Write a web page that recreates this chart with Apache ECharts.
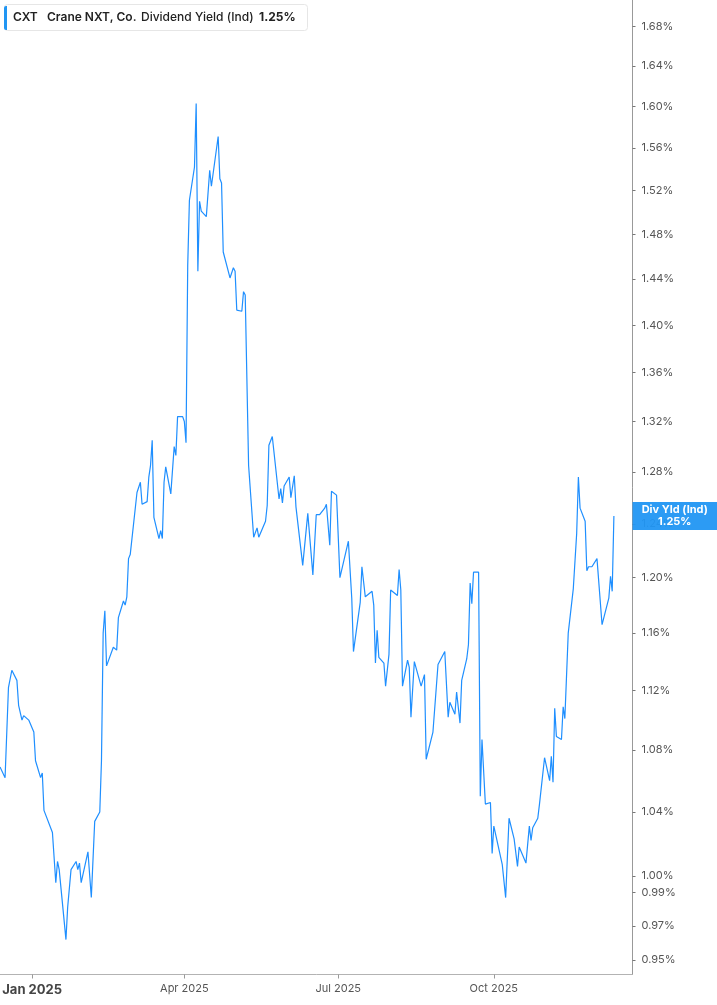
<!DOCTYPE html>
<html>
<head>
<meta charset="utf-8">
<title>CXT Dividend Yield</title>
<script src="https://cdn.jsdelivr.net/npm/echarts@6/dist/echarts.min.js"></script>
<style>
  html, body { margin: 0; padding: 0; background: #fff; }
  #chart { width: 717px; height: 1005px; }
</style>
</head>
<body>
<div id="chart"></div>
<script>
// trading dates (vertices)
const dates = [
  '2024-12-13','2024-12-16','2024-12-18','2024-12-20','2024-12-23','2024-12-24','2024-12-26','2024-12-27','2024-12-30',
  '2025-01-02','2025-01-03','2025-01-06','2025-01-07','2025-01-08','2025-01-13','2025-01-15','2025-01-16','2025-01-17',
  '2025-01-21','2025-01-22','2025-01-23','2025-01-24','2025-01-27','2025-01-28','2025-01-29','2025-01-30',
  '2025-02-03','2025-02-05','2025-02-07','2025-02-10','2025-02-11','2025-02-12','2025-02-13','2025-02-14','2025-02-18',
  '2025-02-20','2025-02-21','2025-02-24','2025-02-25','2025-02-26','2025-02-27','2025-02-28',
  '2025-03-04','2025-03-06','2025-03-07','2025-03-10','2025-03-11','2025-03-12','2025-03-13','2025-03-14','2025-03-17',
  '2025-03-18','2025-03-19','2025-03-20','2025-03-21','2025-03-24','2025-03-26','2025-03-27','2025-03-28','2025-03-31',
  '2025-04-01','2025-04-02','2025-04-03','2025-04-04','2025-04-07','2025-04-08','2025-04-09','2025-04-10','2025-04-11',
  '2025-04-14','2025-04-16','2025-04-17','2025-04-21','2025-04-22','2025-04-23','2025-04-24','2025-04-28','2025-04-30',
  '2025-05-01','2025-05-02','2025-05-05','2025-05-06','2025-05-07','2025-05-09','2025-05-12','2025-05-14','2025-05-15',
  '2025-05-19','2025-05-20','2025-05-21','2025-05-22','2025-05-23','2025-05-27','2025-05-28','2025-05-29','2025-05-30',
  '2025-06-02','2025-06-03','2025-06-05','2025-06-06','2025-06-10','2025-06-13','2025-06-16','2025-06-17','2025-06-18',
  '2025-06-20','2025-06-23','2025-06-24','2025-06-26','2025-06-27','2025-06-30',
  '2025-07-02','2025-07-07','2025-07-09','2025-07-10','2025-07-14','2025-07-15','2025-07-17','2025-07-21','2025-07-22',
  '2025-07-23','2025-07-24','2025-07-25','2025-07-28','2025-07-29','2025-07-31',
  '2025-08-01','2025-08-05','2025-08-06','2025-08-07','2025-08-08','2025-08-11','2025-08-12','2025-08-13','2025-08-15',
  '2025-08-19','2025-08-21','2025-08-22','2025-08-26','2025-08-29',
  '2025-09-02','2025-09-04','2025-09-05','2025-09-08','2025-09-09','2025-09-10','2025-09-11','2025-09-12','2025-09-15',
  '2025-09-16','2025-09-17','2025-09-18','2025-09-19','2025-09-22','2025-09-23','2025-09-24','2025-09-26','2025-09-29',
  '2025-09-30',
  '2025-10-01','2025-10-06','2025-10-07','2025-10-08','2025-10-10','2025-10-13','2025-10-15','2025-10-16','2025-10-20',
  '2025-10-22','2025-10-23','2025-10-24','2025-10-27','2025-10-28','2025-10-29','2025-10-31',
  '2025-11-03','2025-11-04','2025-11-05','2025-11-06','2025-11-07','2025-11-10','2025-11-11','2025-11-12','2025-11-14',
  '2025-11-17','2025-11-19','2025-11-20','2025-11-21','2025-11-24','2025-11-25','2025-11-26','2025-11-28',
  '2025-12-01','2025-12-02','2025-12-04','2025-12-08','2025-12-09','2025-12-10','2025-12-11'
];

// dividend yield, %
const yields = [
  1.069,1.062,1.122,1.134,1.127,1.110,1.100,1.103,1.100,
  1.092,1.073,1.062,1.065,1.041,1.027,0.996,1.009,1.004,
  0.962,0.981,0.980,1.004,1.009,1.004,1.008,0.996,
  1.015,0.987,1.034,1.040,1.073,1.160,1.176,1.137,1.150,
  1.148,1.171,1.183,1.180,1.186,1.214,1.217,
  1.264,1.272,1.255,1.257,1.276,1.285,1.305,1.245,1.229,
  1.235,1.229,1.272,1.284,1.263,1.300,1.293,1.324,1.324,
  1.320,1.303,1.452,1.511,1.542,1.603,1.447,1.510,1.501,
  1.496,1.539,1.524,1.571,1.531,1.527,1.464,1.441,1.450,
  1.447,1.413,1.412,1.429,1.426,1.285,1.230,1.237,1.230,
  1.242,1.254,1.301,1.302,1.308,1.259,1.267,1.256,1.269,
  1.276,1.260,1.277,1.253,1.209,1.248,1.202,1.201,1.247,
  1.247,1.252,1.255,1.224,1.265,1.262,
  1.200,1.227,1.185,1.147,1.182,1.208,1.186,1.190,1.180,
  1.139,1.162,1.143,1.139,1.123,1.145,
  1.191,1.187,1.206,1.191,1.123,1.141,1.136,1.102,1.140,
  1.123,1.131,1.074,1.092,1.138,
  1.147,1.102,1.112,1.104,1.119,1.118,1.098,1.127,1.142,
  1.152,1.196,1.181,1.204,1.204,1.050,1.087,1.045,1.046,
  1.014,
  1.031,1.007,1.008,0.987,1.036,1.023,1.006,1.018,1.008,
  1.031,1.022,1.030,1.036,1.045,1.046,1.075,
  1.060,1.076,1.059,1.108,1.089,1.087,1.109,1.101,1.160,
  1.192,1.233,1.276,1.252,1.242,1.205,1.208,1.208,
  1.214,1.214,1.166,1.185,1.201,1.190,1.246
];

const yTicks = [1.68, 1.64, 1.60, 1.56, 1.52, 1.48, 1.44, 1.40, 1.36, 1.32, 1.28, 1.24, 1.20, 1.16, 1.12, 1.08, 1.04, 1.00, 0.99, 0.97, 0.95];
const xTicks = ['2025-01-01', '2025-04-01', '2025-07-01', '2025-10-01'];
const xMin = '2024-12-13';
const xMax = '2025-12-22';
const yMinPct = 0.9417;
const yMaxPct = 1.7076;

const ticker = 'CXT';
const company = 'Crane NXT, Co.';
const metric = 'Dividend Yield (Ind)';
const lastLabel = 'Div Yld (Ind)';

const BLUE = '#1f8fff';
const TAG = '#2196f3';
const FONT = 'Inter, "Noto Sans", sans-serif';
const MONTHS = ['Jan','Feb','Mar','Apr','May','Jun','Jul','Aug','Sep','Oct','Nov','Dec'];

const chart = echarts.init(document.getElementById('chart'), null, { renderer: 'canvas' });

// dates as UTC ms on a value axis, yields as ln(value) so the y scale is logarithmic
const ms = (d) => Date.parse(d + 'T00:00:00Z');
const seriesData = dates.map((d, i) => [ms(d), Math.log(yields[i])]);
const lastVal = yields[yields.length - 1];
const tickLn = yTicks.map((v) => Math.log(v));
const xTickMs = xTicks.map(ms);

const option = {
  animation: false,
  backgroundColor: '#fff',
  textStyle: { fontFamily: FONT },
  grid: { left: 0, right: 84.5, top: 0, bottom: 30.5, containLabel: false, outerBoundsMode: 'none' },
  xAxis: {
    type: 'value',
    min: ms(xMin),
    max: ms(xMax),
    splitLine: { show: false },
    axisLine: { show: true, onZero: false, lineStyle: { color: '#b3b3b3', width: 1 } },
    axisTick: { show: true, length: 4, lineStyle: { color: '#999' }, customValues: xTickMs },
    axisLabel: {
      customValues: xTickMs,
      margin: 9,
      fontSize: 11,
      color: '#555',
      fontFamily: FONT,
      formatter: (val) => {
        const d = new Date(val);
        const s = MONTHS[d.getUTCMonth()] + ' ' + d.getUTCFullYear();
        return d.getUTCMonth() === 0 ? '{yr|' + s + '}' : s;
      },
      rich: {
        yr: { fontSize: 13, fontWeight: 'bold', color: '#444', fontFamily: FONT }
      }
    }
  },
  yAxis: {
    type: 'value',
    position: 'right',
    min: Math.log(yMinPct),
    max: Math.log(yMaxPct),
    splitLine: { show: false },
    axisLine: { show: true, onZero: false, lineStyle: { color: '#999', width: 1 } },
    axisTick: { show: true, length: 3, lineStyle: { color: '#777' }, customValues: tickLn },
    axisLabel: {
      customValues: tickLn,
      margin: 9,
      fontSize: 11,
      color: '#555',
      fontFamily: FONT,
      formatter: (v) => Math.exp(v).toFixed(2) + '%'
    }
  },
  series: [{
    type: 'line',
    data: seriesData,
    showSymbol: false,
    symbol: 'none',
    lineStyle: { color: BLUE, width: 1.2 },
    z: 3
  }]
};

chart.setOption(option);

// header chip + last value tag
const tagY = chart.convertToPixel({ yAxisIndex: 0 }, Math.log(lastVal));
const axisX = chart.convertToPixel({ xAxisIndex: 0 }, ms(xMax));

chart.setOption({
  graphic: [
    {
      type: 'rect', left: 4, top: 4, z: 10,
      shape: { width: 303, height: 26, r: 3 },
      style: { fill: '#fff', stroke: '#e6e6e6', lineWidth: 1 }
    },
    {
      type: 'rect', left: 4, top: 6, z: 11,
      shape: { width: 3, height: 24, r: [2, 0, 0, 2] },
      style: { fill: TAG }
    },
    { type: 'text', x: 13, y: 17, z: 11, style: { text: ticker, font: '600 12px ' + FONT, fill: '#222', textVerticalAlign: 'middle' } },
    { type: 'text', x: 47, y: 17, z: 11, style: { text: company, font: '600 12px ' + FONT, fill: '#222', textVerticalAlign: 'middle' } },
    { type: 'text', x: 141, y: 17, z: 11, style: { text: metric, font: '500 12px ' + FONT, fill: '#222', textVerticalAlign: 'middle' } },
    { type: 'text', x: 259, y: 17, z: 11, style: { text: lastVal.toFixed(2) + '%', font: '700 12px ' + FONT, fill: '#222', textVerticalAlign: 'middle' } },
    {
      type: 'rect', x: axisX, y: tagY - 14, z: 12,
      shape: { width: 717 - axisX, height: 28 },
      style: { fill: TAG, opacity: 0.95 }
    },
    {
      type: 'text', x: axisX + (717 - axisX) / 2, y: tagY - 6, z: 13,
      style: { text: lastLabel, font: '700 11px ' + FONT, fill: '#fff', textAlign: 'center', textVerticalAlign: 'middle' }
    },
    {
      type: 'text', x: axisX + (717 - axisX) / 2, y: tagY + 6, z: 13,
      style: { text: lastVal.toFixed(2) + '%', font: '700 11px ' + FONT, fill: '#fff', textAlign: 'center', textVerticalAlign: 'middle' }
    }
  ]
});
</script>
</body>
</html>
